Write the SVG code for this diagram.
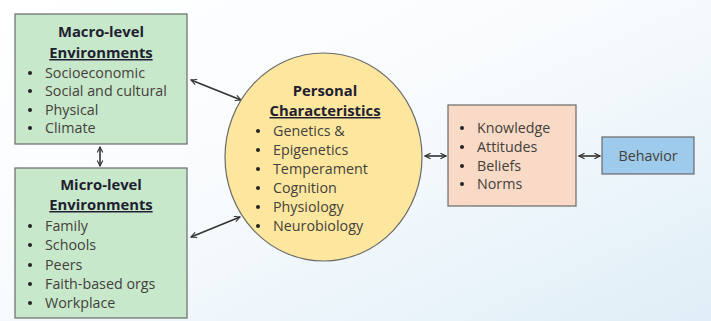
<svg xmlns="http://www.w3.org/2000/svg" width="711" height="321" viewBox="0 0 711 321">
<defs>
<linearGradient id="bg" x1="0" y1="0" x2="1" y2="1">
<stop offset="0" stop-color="#ffffff"/>
<stop offset="0.45" stop-color="#f8fbfd"/>
<stop offset="1" stop-color="#dfeef7"/>
</linearGradient>
<marker id="ah" viewBox="0 0 10 10" refX="9" refY="5" markerWidth="7" markerHeight="7" orient="auto-start-reverse" markerUnits="userSpaceOnUse">
<path d="M1,1 L9,5 L1,9" fill="none" stroke="#333" stroke-width="1.6"/>
</marker>
<style>
.box{stroke:#6a6a6a;stroke-width:1.2}
.t{font-family:"Open Sans","Noto Sans",sans-serif;font-size:14.3px;fill:#443f3a}
.h{font-family:"Open Sans","Noto Sans",sans-serif;font-size:14.8px;font-weight:bold;fill:#1e1e30;text-anchor:middle}
.u{text-decoration:underline}
.b{fill:#222}
.c{stroke:#333;stroke-width:1.6;fill:none;marker-start:url(#ah);marker-end:url(#ah)}
</style>
</defs>
<rect x="0" y="0" width="711" height="321" fill="url(#bg)"/>
<g id="connectors">
<line class="c" x1="191" y1="80" x2="241" y2="100"/>
<line class="c" x1="191" y1="237" x2="240" y2="217"/>
<line class="c" x1="100" y1="147" x2="100" y2="166"/>
<line class="c" x1="425" y1="156" x2="446" y2="156"/>
<line class="c" x1="579" y1="156" x2="600" y2="156"/>
</g>
<g id="macro">
<rect class="box" x="15" y="14" width="172" height="130" fill="#c8e8cc"/>
<text class="h" x="101" y="37">Macro-level</text>
<text class="h u" x="101" y="58">Environments</text>
<circle class="b" cx="30" cy="73" r="2"/><text class="t" x="45" y="78">Socioeconomic</text>
<circle class="b" cx="30" cy="91" r="2"/><text class="t" x="45" y="96">Social and cultural</text>
<circle class="b" cx="30" cy="110" r="2"/><text class="t" x="45" y="115">Physical</text>
<circle class="b" cx="30" cy="128" r="2"/><text class="t" x="45" y="133">Climate</text>
</g>
<g id="micro">
<rect class="box" x="15" y="168" width="172" height="150" fill="#c8e8cc"/>
<text class="h" x="101" y="190">Micro-level</text>
<text class="h u" x="101" y="210">Environments</text>
<circle class="b" cx="30" cy="226" r="2"/><text class="t" x="45" y="231">Family</text>
<circle class="b" cx="30" cy="245" r="2"/><text class="t" x="45" y="250">Schools</text>
<circle class="b" cx="30" cy="265" r="2"/><text class="t" x="45" y="270">Peers</text>
<circle class="b" cx="30" cy="284" r="2"/><text class="t" x="45" y="289">Faith-based orgs</text>
<circle class="b" cx="30" cy="303" r="2"/><text class="t" x="45" y="308">Workplace</text>
</g>
<g id="personal">
<ellipse class="box" cx="323.5" cy="157" rx="98.5" ry="104" fill="#fde79f"/>
<text class="h" x="325" y="96">Personal</text>
<text class="h u" x="325" y="116">Characteristics</text>
<circle class="b" cx="258" cy="131" r="2"/><text class="t" x="273" y="136">Genetics &amp;</text>
<circle class="b" cx="258" cy="150" r="2"/><text class="t" x="273" y="155">Epigenetics</text>
<circle class="b" cx="258" cy="169" r="2"/><text class="t" x="273" y="174">Temperament</text>
<circle class="b" cx="258" cy="188" r="2"/><text class="t" x="273" y="193">Cognition</text>
<circle class="b" cx="258" cy="207" r="2"/><text class="t" x="273" y="212">Physiology</text>
<circle class="b" cx="258" cy="226" r="2"/><text class="t" x="273" y="231">Neurobiology</text>
</g>
<g id="kabn">
<rect class="box" x="448" y="105" width="128" height="101" fill="#f8dac7"/>
<circle class="b" cx="462" cy="128" r="2"/><text class="t" x="477" y="133">Knowledge</text>
<circle class="b" cx="462" cy="147" r="2"/><text class="t" x="477" y="152">Attitudes</text>
<circle class="b" cx="462" cy="166" r="2"/><text class="t" x="477" y="171">Beliefs</text>
<circle class="b" cx="462" cy="184" r="2"/><text class="t" x="477" y="189">Norms</text>
</g>
<g id="behavior">
<rect class="box" x="602" y="137" width="92" height="37" fill="#9ecbeb"/>
<text class="t" x="648" y="161" text-anchor="middle">Behavior</text>
</g>
</svg>
